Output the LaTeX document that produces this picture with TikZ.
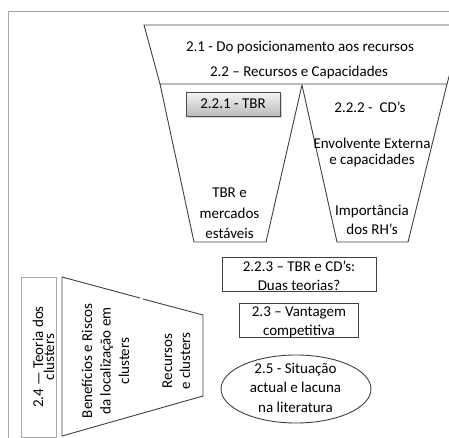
\documentclass[tikz,border=0pt]{standalone}
\usepackage{fontspec}
\setmainfont{Carlito}
\usetikzlibrary{shadows}
\begin{document}
\begin{tikzpicture}[x=1pt,y=-1pt,
  shapeline/.style={draw=black!75, line width=0.9pt},
  frameline/.style={draw=black!35, line width=0.9pt},
  % multi-line texts are placed by the baseline of their last line
  txt/.style={font=\fontsize{15}{19}\selectfont, inner sep=0pt, align=center, anchor=base},
  plainbox/.style={shapeline, inner sep=0pt},
  tbrbox/.style={draw=black!70, line width=0.7pt, inner sep=0pt,
    minimum width=94pt, minimum height=24pt,
    top color=black!4, bottom color=black!27,
    drop shadow={opacity=0.35, shadow xshift=1.5pt, shadow yshift=-1.8pt},
    font=\fontsize{15}{19}\selectfont}
]
\useasboundingbox (0,0) rectangle (449,438);

% page frame
\draw[frameline] (8,438) -- (8,11) -- (449,11);

% upper funnel: heading band and the two cones
\begin{scope}
  \clip (0,0) rectangle (449,438);
  \draw[shapeline, line join=miter] (144,25) -- (463,25) -- (447,84) -- (160,84) -- cycle;
\end{scope}
\draw[shapeline] (160,84) -- (194,242) -- (266,242) -- (302,85);
\draw[shapeline] (302,85) -- (337,242) -- (408,242) -- (447,84);

\node[txt] (t21) at (300,52) {2.1 - Do posicionamento aos recursos};
\node[txt] (t22) at (299,77) {2.2 – Recursos e Capacidades};

\node[tbrbox] (tbr) at (233,104) {2.2.1 - TBR};
\node[txt, font=\fontsize{15}{20}\selectfont] (ttbr) at (229.5,238) {TBR e\\mercados\\estáveis};

\node[txt] (t222) at (370,113) {2.2.2 -\ \ CD’s};
\node[txt, font=\fontsize{15}{15.5}\selectfont] (tenv) at (372,164.5) {Envolvente Externa\\e capacidades};
\node[txt, font=\fontsize{15}{19.5}\selectfont] (timp) at (372,234.5) {Importância\\dos RH’s};

% middle boxes
\node[plainbox, minimum width=154pt, minimum height=34pt] (b223) at (299,274) {};
\node[txt] (t223) at (299,290) {2.2.3 – TBR e CD’s:\\Duas teorias?};

\node[plainbox, minimum width=119pt, minimum height=34pt] (b23) at (298.5,320) {};
\node[txt] (t23) at (299,335) {2.3 – Vantagem\\competitiva};

% closing ellipse
\draw[shapeline] (296,389) ellipse [x radius=75, y radius=34];
\node[txt, font=\fontsize{15}{19.5}\selectfont] (t25) at (295.5,412) {2.5 - Situação\\actual e lacuna\\na literatura};

% clusters block
\draw[frameline] (21,277) rectangle (56,437);
\node[txt, rotate=90, font=\fontsize{15}{11}\selectfont] (t24) at (54,357) {2.4 — Teoria dos\\clusters};

\draw[shapeline] (140,298) -- (62,277) -- (62,436) -- (203,396) -- (203,315) -- (143,299);
\node[txt, rotate=90, font=\fontsize{15}{18.5}\selectfont] (tben) at (129,361) {Benefícios e Riscos\\da localização em\\clusters};
\node[txt, rotate=90, font=\fontsize{15}{18}\selectfont] (trec) at (190,361) {Recursos\\e clusters};
\end{tikzpicture}
\end{document}
